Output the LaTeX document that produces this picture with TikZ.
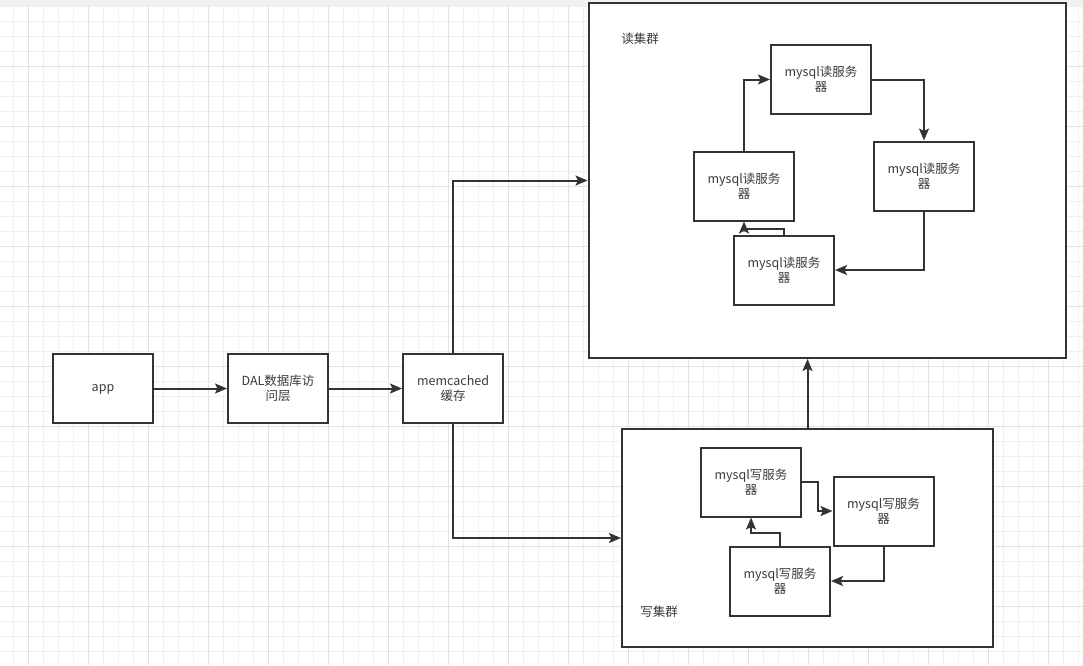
\documentclass[tikz,border=0pt]{standalone}
\usepackage{fontspec}
\setmainfont{Noto Sans CJK SC}
\usetikzlibrary{arrows.meta}
\definecolor{ink}{HTML}{333333}
\definecolor{txt}{HTML}{3A3A3A}
\definecolor{gminor}{HTML}{EFEFEF}
\definecolor{gmajor}{HTML}{E2E2E2}
\definecolor{band}{HTML}{F1F1F1}
\tikzset{
  box/.style={draw=ink, line width=2pt, fill=white, minimum width=100pt, minimum height=69pt, inner sep=0pt, align=center, text=txt, font=\fontsize{12.5}{15}\selectfont},
  cluster/.style={draw=ink, line width=2pt, fill=white, inner sep=0pt},
  conn/.style={draw=ink, line width=2pt, -{Stealth[length=12pt,width=10pt,inset=2.5pt]}},
  lbl/.style={text=txt, font=\fontsize{12.5}{15}\selectfont, inner sep=0pt},
  gmin/.style={draw=gminor, line width=1pt},
  gmaj/.style={draw=gmajor, line width=1pt}
}
\begin{document}
\begin{tikzpicture}[x=1pt,y=-1pt]
\useasboundingbox (0,0) rectangle (1083,665);
\fill[white] (0,0) rectangle (1083,665);
% grid
\foreach \x in {13.33,28.33,...,1083} \draw[gmin] (\x,6) -- (\x,665);
\foreach \y in {6.67,21.67,...,665} \draw[gmin] (0,\y) -- (1083,\y);
\foreach \x in {28.33,88.33,...,1083} \draw[gmaj] (\x,6) -- (\x,665);
\foreach \y in {66.67,126.67,...,665} \draw[gmaj] (0,\y) -- (1083,\y);
\fill[band] (0,0) rectangle (1083,6);
% clusters
\node[cluster, minimum width=477pt, minimum height=355pt] (R) at (827,180.5) {};
\node[cluster, minimum width=371pt, minimum height=218pt] (W) at (807.5,538) {};
\node[lbl] (RL) at (640,39) {读集群};
\node[lbl] (WL) at (659,612) {写集群};
% main chain
\node[box, text height=5pt, text depth=0pt] (app) at (103,388.5) {app};
\node[box] (dal) at (278,388.5) {DAL数据库访\\问层};
\node[box] (mem) at (453,388.5) {memcached\\缓存};
% read servers
\node[box] (r1) at (821,79.5) {mysql读服务\\器};
\node[box] (r2) at (924,176) {mysql读服务\\器};
\node[box] (r3) at (744,186) {mysql读服务\\器};
\node[box] (r4) at (784,270) {mysql读服务\\器};
% write servers
\node[box] (w1) at (751,482) {mysql写服务\\器};
\node[box] (w2) at (883.5,511) {mysql写服务\\器};
\node[box] (w3) at (780,581) {mysql写服务\\器};
% connectors
\draw[conn] (app.east) -- (dal.west);
\draw[conn] (dal.east) -- (mem.west);
\draw[conn] (mem.north) |- (R.west);
\draw[conn] (mem.south) |- (W.west);
\draw[conn] (W.north) -- (W.north |- R.south);
\draw[conn] (r3.north) |- (r1.west);
\draw[conn] (r1.east) -| (r2.north);
\draw[conn] (r2.south) |- (r4.east);
\draw[conn] (r4.north) -- ++(0,-6) -| (r3.south);
\draw[conn] (w1.east) -- ++(16,0) |- (w2.west);
\draw[conn] (w2.south) |- (w3.east);
\draw[conn] (w3.north) -- ++(0,-13) -| (w1.south);
\end{tikzpicture}
\end{document}
